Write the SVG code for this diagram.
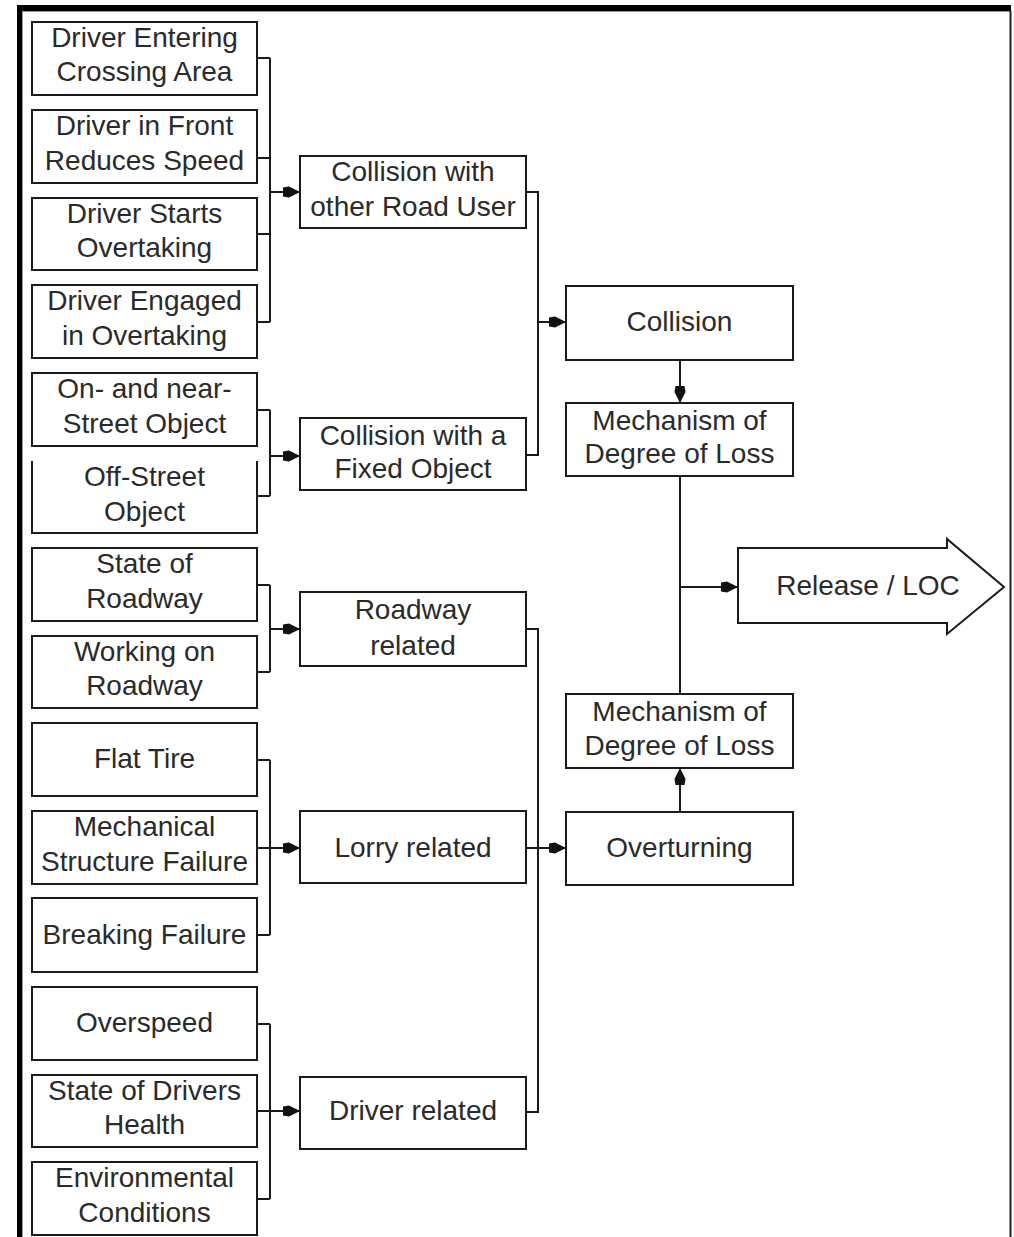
<svg xmlns="http://www.w3.org/2000/svg" width="1014" height="1237" viewBox="0 0 1014 1237">
<style>
  .box { fill: #fff; stroke: #1a1a1a; stroke-width: 2; }
  .ln { fill: none; stroke: #1a1a1a; stroke-width: 2; }
  .t { font-family: "Liberation Sans", Arial, sans-serif; font-size: 28px; fill: #2a2a2a; text-anchor: middle; }
</style>
<defs>
  <marker id="ah" markerUnits="userSpaceOnUse" markerWidth="18" markerHeight="14" refX="17" refY="6" orient="auto">
    <path d="M0,1.5 L6,0.5 L17,6 L6,11.5 L0,10.5 Z" fill="#111"/>
  </marker>
</defs>
<rect width="1014" height="1237" fill="#fff"/>
<g id="frame">
  <rect x="17" y="5" width="994" height="6" fill="#000"/>
  <rect x="17" y="5" width="5" height="1232" fill="#000"/>
  <line x1="22.5" y1="11" x2="22.5" y2="1237" stroke="#999" stroke-width="1"/>
  <line x1="22" y1="11.5" x2="1010" y2="11.5" stroke="#999" stroke-width="1"/>
  <line x1="1010.5" y1="11" x2="1010.5" y2="1237" stroke="#222" stroke-width="2"/>
</g>
<g id="connectors">
  <path class="ln" d="M257,58 H270 M257,158 H270 M257,234 H270 M257,322 H270 M270,58 V322"/>
  <path class="ln" d="M270,192 H300" marker-end="url(#ah)"/>
  <path class="ln" d="M257,410 H270 M257,496 H270 M270,410 V496"/>
  <path class="ln" d="M270,456 H300" marker-end="url(#ah)"/>
  <path class="ln" d="M257,585 H270 M257,672 H270 M270,585 V672"/>
  <path class="ln" d="M270,629 H300" marker-end="url(#ah)"/>
  <path class="ln" d="M257,760 H270 M257,935 H270 M270,760 V935 M257,848 H270"/>
  <path class="ln" d="M270,848 H300" marker-end="url(#ah)"/>
  <path class="ln" d="M257,1024 H270 M257,1199 H270 M270,1024 V1199 M257,1111 H270"/>
  <path class="ln" d="M270,1111 H300" marker-end="url(#ah)"/>
  <path class="ln" d="M526,192 H538 V455 H526"/>
  <path class="ln" d="M538,322 H566" marker-end="url(#ah)"/>
  <path class="ln" d="M526,629 H538 V1112 H526 M526,848 H538"/>
  <path class="ln" d="M538,848 H566" marker-end="url(#ah)"/>
  <path class="ln" d="M680,360 V403" marker-end="url(#ah)"/>
  <path class="ln" d="M680,476 V694"/>
  <path class="ln" d="M680,587 H738" marker-end="url(#ah)"/>
  <path class="ln" d="M680,812 V768" marker-end="url(#ah)"/>
</g>
<g id="n1"><rect class="box" x="32" y="22" width="225" height="73"/><text class="t" x="144.5" y="47">Driver Entering</text><text class="t" x="144.5" y="81">Crossing Area</text></g>
<g id="n2"><rect class="box" x="32" y="110" width="225" height="73"/><text class="t" x="144.5" y="135">Driver in Front</text><text class="t" x="144.5" y="170">Reduces Speed</text></g>
<g id="n3"><rect class="box" x="32" y="198" width="225" height="72"/><text class="t" x="144.5" y="223">Driver Starts</text><text class="t" x="144.5" y="257">Overtaking</text></g>
<g id="n4"><rect class="box" x="32" y="285" width="225" height="73"/><text class="t" x="144.5" y="310">Driver Engaged</text><text class="t" x="144.5" y="345">in Overtaking</text></g>
<g id="n5"><rect class="box" x="32" y="373" width="225" height="73"/><text class="t" x="144.5" y="398">On- and near-</text><text class="t" x="144.5" y="433">Street Object</text></g>
<g id="n6"><path class="box" d="M32,461 V533 H257 V461"/><text class="t" x="144.5" y="486">Off-Street</text><text class="t" x="144.5" y="521">Object</text></g>
<g id="n7"><rect class="box" x="32" y="548" width="225" height="73"/><text class="t" x="144.5" y="573">State of</text><text class="t" x="144.5" y="608">Roadway</text></g>
<g id="n8"><rect class="box" x="32" y="636" width="225" height="72"/><text class="t" x="144.5" y="661">Working on</text><text class="t" x="144.5" y="695">Roadway</text></g>
<g id="n9"><rect class="box" x="32" y="723" width="225" height="73"/><text class="t" x="144.5" y="768">Flat Tire</text></g>
<g id="n10"><rect class="box" x="32" y="811" width="225" height="73"/><text class="t" x="144.5" y="836">Mechanical</text><text class="t" x="144.5" y="871">Structure Failure</text></g>
<g id="n11"><rect class="box" x="32" y="898" width="225" height="74"/><text class="t" x="144.5" y="944">Breaking Failure</text></g>
<g id="n12"><rect class="box" x="32" y="987" width="225" height="73"/><text class="t" x="144.5" y="1032">Overspeed</text></g>
<g id="n13"><rect class="box" x="32" y="1075" width="225" height="72"/><text class="t" x="144.5" y="1100">State of Drivers</text><text class="t" x="144.5" y="1134">Health</text></g>
<g id="n14"><rect class="box" x="32" y="1162" width="225" height="73"/><text class="t" x="144.5" y="1187">Environmental</text><text class="t" x="144.5" y="1222">Conditions</text></g>
<g id="m1"><rect class="box" x="300" y="156" width="226" height="72"/><text class="t" x="413" y="181">Collision with</text><text class="t" x="413" y="216">other Road User</text></g>
<g id="m2"><rect class="box" x="300" y="418" width="226" height="72"/><text class="t" x="413" y="445">Collision with a</text><text class="t" x="413" y="478">Fixed Object</text></g>
<g id="m3"><rect class="box" x="300" y="592" width="226" height="74"/><text class="t" x="413" y="619">Roadway</text><text class="t" x="413" y="655">related</text></g>
<g id="m4"><rect class="box" x="300" y="811" width="226" height="72"/><text class="t" x="413" y="857">Lorry related</text></g>
<g id="m5"><rect class="box" x="300" y="1077" width="226" height="72"/><text class="t" x="413" y="1120">Driver related</text></g>
<g id="r1"><rect class="box" x="566" y="286" width="227" height="74"/><text class="t" x="679.5" y="331">Collision</text></g>
<g id="r2"><rect class="box" x="566" y="403" width="227" height="73"/><text class="t" x="679.5" y="430">Mechanism of</text><text class="t" x="679.5" y="463">Degree of Loss</text></g>
<g id="r3"><rect class="box" x="566" y="694" width="227" height="74"/><text class="t" x="679.5" y="721">Mechanism of</text><text class="t" x="679.5" y="755">Degree of Loss</text></g>
<g id="r4"><rect class="box" x="566" y="812" width="227" height="73"/><text class="t" x="679.5" y="857">Overturning</text></g>
<g id="release"><polygon class="box" points="738,548 947,548 947,539 1004,587 947,634 947,623 738,623"/><text class="t" x="868" y="595">Release / LOC</text></g>
</svg>
